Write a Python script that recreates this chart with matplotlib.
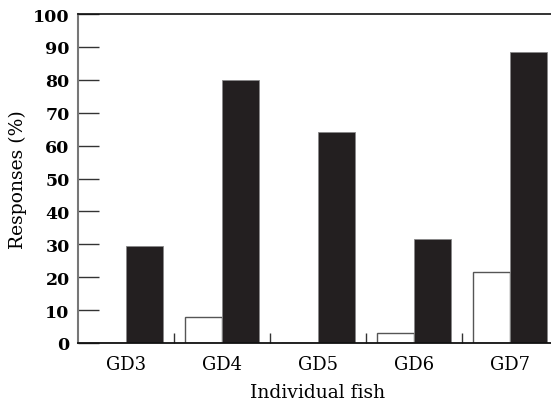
import matplotlib
matplotlib.use("Agg")
import matplotlib.pyplot as plt
import numpy as np

categories = ["GD3", "GD4", "GD5", "GD6", "GD7"]
white_vals = [0, 8, 0, 3, 21.5]
black_vals = [29.5, 80, 64, 31.5, 88.5]
yticks = list(range(0, 101, 10))

plt.rcParams['font.family'] = ['DejaVu Serif']

fig = plt.figure(figsize=(5.51, 4.06), dpi=100)
ax = fig.add_axes([78/551, 62/406, 480/551, 329/406])

x = np.arange(len(categories))
w = 0.39
ax.bar(x - w/2, white_vals, width=w, color='white', edgecolor='#555555', linewidth=1.0)
ax.bar(x + w/2, black_vals, width=w, color='#231f20', edgecolor='#888888', linewidth=0.6)

ax.set_xlim(-0.5, len(categories) - 0.5)
ax.set_ylim(0, 100)
ax.set_yticks(yticks)
ax.set_yticklabels([str(t) for t in yticks], fontsize=12.5, fontweight='semibold')
ax.tick_params(axis='y', direction='in', length=15, width=1.0, color='#333333', pad=6)

ax.set_xticks(x)
ax.set_xticklabels(categories, fontsize=13)
ax.tick_params(axis='x', which='major', length=0, pad=9)
ax.set_xticks(np.arange(0.5, len(categories) - 0.5, 1.0), minor=True)
ax.tick_params(axis='x', which='minor', direction='in', length=7, width=1.0, color='#333333')

ax.spines['left'].set_color('#777777')
ax.spines['left'].set_linewidth(1.5)
ax.spines['bottom'].set_color('#111111')
ax.spines['bottom'].set_linewidth(1.3)
ax.spines['top'].set_color('#111111')
ax.spines['top'].set_linewidth(1.2)
ax.spines['right'].set_visible(False)

ax.set_ylabel("Responses (%)", fontsize=13.5, labelpad=4)
ax.set_xlabel("Individual fish", fontsize=13.5, labelpad=7)

fig.savefig("out.png", dpi=100)
